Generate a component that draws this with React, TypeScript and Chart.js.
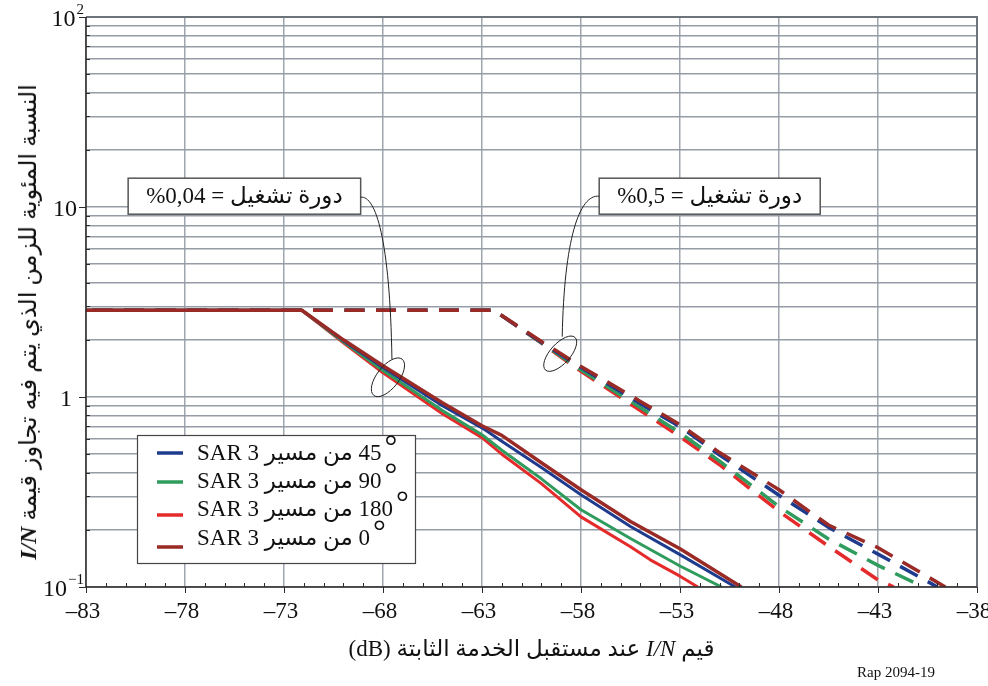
import React, { useEffect, useRef } from "react";
import { Chart, registerables } from "chart.js";

Chart.register(...registerables);

// ---- Axis ticks --------------------------------------------------------
const xTickValues = [-83, -78, -73, -68, -63, -58, -53, -48, -43, -38];
const xTickLabels = ["–83", "–78", "–73", "–68", "–63", "–58", "–53", "–48", "–43", "–38"];
const yTickValues = [100, 10, 1, 0.1];
const yTickBase = ["10", "10", "1", "10"];
const yTickExp = ["2", "", "", "−1"];

// ---- Series: I/N (dB) against % of time exceeded -----------------------
// Duty cycle 0.04 % (solid)
const sar45X = [-83, -72.1, -70, -68, -65, -63, -62, -60, -58, -55.5, -53, -50.2];
const sar45Y = [2.86, 2.86, 1.98, 1.43, 0.899, 0.688, 0.585, 0.425, 0.306, 0.208, 0.148, 0.1];
const sar90X = [-83, -72.1, -70, -68, -65, -63, -62, -60, -58, -55.5, -53, -50.9];
const sar90Y = [2.86, 2.86, 1.95, 1.38, 0.848, 0.633, 0.525, 0.371, 0.255, 0.18, 0.129, 0.1];
const sar180X = [-83, -72.1, -70, -68, -65, -63, -62, -60, -58, -55.5, -54.5, -53, -52.1];
const sar180Y = [2.86, 2.86, 1.93, 1.34, 0.817, 0.611, 0.5, 0.35, 0.234, 0.163, 0.139, 0.114, 0.1];
const sar0X = [-83, -72.1, -70, -68, -65, -63, -62, -60, -58, -55.5, -53, -49.9];
const sar0Y = [2.86, 2.86, 2.0, 1.46, 0.933, 0.706, 0.628, 0.451, 0.325, 0.221, 0.159, 0.1];

// Duty cycle 0.5 % (dashed)
const duty45X = [-83, -62.4, -60, -58, -55, -53, -51, -48, -45.5, -43, -40.0];
const duty45Y = [2.86, 2.86, 1.94, 1.43, 0.922, 0.698, 0.495, 0.304, 0.206, 0.149, 0.1];
const duty90X = [-83, -62.4, -60, -58, -55, -53, -51, -48, -45.5, -43, -40.7];
const duty90Y = [2.86, 2.86, 1.93, 1.39, 0.879, 0.648, 0.46, 0.265, 0.179, 0.13, 0.1];
const duty180X = [-83, -62.4, -60, -58, -55, -53, -51, -48, -45.5, -43, -42.2];
const duty180Y = [2.86, 2.86, 1.92, 1.364, 0.849, 0.618, 0.44, 0.25, 0.164, 0.109, 0.1];
const duty0X = [-83, -62.4, -60, -58, -55, -53, -51, -48, -45.5, -43, -39.6];
const duty0Y = [2.86, 2.86, 1.96, 1.449, 0.948, 0.715, 0.51, 0.325, 0.212, 0.161, 0.1];

// ---- Legend ------------------------------------------------------------
const trackAngles = ["45", "90", "180", "0"];
const trackText = "من مسير SAR 3";
const seriesColors = ["#1f3b8e", "#2f9c5e", "#e42a2a", "#992a26"];

// ---- Duty-cycle callouts -------------------------------------------------
const dutyWord = "دورة تشغيل";
const dutyValues = ["0,04", "0,5"];

const SERIF = '"Liberation Serif", "Times New Roman", "DejaVu Sans", serif';

const pts = (xs: number[], ys: number[]) => xs.map((v, i) => ({ x: v, y: ys[i] }));

const solid = [
  { xs: sar45X, ys: sar45Y },
  { xs: sar90X, ys: sar90Y },
  { xs: sar180X, ys: sar180Y },
  { xs: sar0X, ys: sar0Y },
];
const dashed = [
  { xs: duty45X, ys: duty45Y },
  { xs: duty90X, ys: duty90Y },
  { xs: duty180X, ys: duty180Y },
  { xs: duty0X, ys: duty0Y },
];
// lower order is painted later (on top): 0° on top, 180° underneath
const stackRank = [1, 2, 3, 0];

const datasets: any[] = [
  ...solid.map((s, i) => ({
    label: trackAngles[i] + "° " + trackText,
    data: pts(s.xs, s.ys),
    borderColor: seriesColors[i],
    borderWidth: i === 3 ? 3.5 : 3,
    order: stackRank[i],
  })),
  ...dashed.map((s, i) => ({
    label: trackAngles[i] + "° " + trackText + " (0,5%)",
    data: pts(s.xs, s.ys),
    borderColor: seriesColors[i],
    borderWidth: 3.5,
    borderDash: [20, 11.5],
    borderDashOffset: 25,
    order: 4 + stackRank[i],
  })),
];

function setDir(ctx: CanvasRenderingContext2D, dir: string) {
  (ctx as any).direction = dir;
}

const overlayPlugin = {
  id: "overlay",
  afterDatasetsDraw(chart: any) {
    const { ctx, chartArea: a, scales } = chart;
    const xs = scales.x;
    const ys = scales.y;
    ctx.save();

    // frame
    ctx.lineWidth = 2;
    ctx.strokeStyle = "#6d737b";
    ctx.beginPath();
    ctx.moveTo(a.left, a.top);
    ctx.lineTo(a.right, a.top);
    ctx.lineTo(a.right, a.bottom);
    ctx.stroke();
    ctx.lineWidth = 1.5;
    ctx.strokeStyle = "#2b2b2b";
    ctx.beginPath();
    ctx.moveTo(a.left, a.top);
    ctx.lineTo(a.left, a.bottom);
    ctx.lineTo(a.right, a.bottom);
    ctx.stroke();

    // x tick marks: majors outward, minors inward
    ctx.lineWidth = 1;
    ctx.beginPath();
    for (let v = -83; v <= -38; v++) {
      const px = Math.round(xs.getPixelForValue(v)) + 0.5;
      if ((v + 83) % 5 === 0) {
        ctx.moveTo(px, a.bottom);
        ctx.lineTo(px, a.bottom + 6);
      } else {
        ctx.moveTo(px, a.bottom);
        ctx.lineTo(px, a.bottom - 4);
      }
    }
    // y tick marks
    for (let e = -1; e < 2; e++) {
      for (let m = 1; m <= 9; m++) {
        const v = m * Math.pow(10, e);
        const py = Math.round(ys.getPixelForValue(v)) + 0.5;
        if (m === 1) {
          ctx.moveTo(a.left - 7, py);
          ctx.lineTo(a.left, py);
        } else {
          ctx.moveTo(a.left, py);
          ctx.lineTo(a.left + 4, py);
        }
      }
    }
    const topPy = Math.round(ys.getPixelForValue(100)) + 0.5;
    ctx.moveTo(a.left - 7, topPy);
    ctx.lineTo(a.left, topPy);
    ctx.stroke();

    // tick labels
    ctx.fillStyle = "#111";
    ctx.textBaseline = "middle";
    ctx.font = `23px ${SERIF}`;
    ctx.textAlign = "center";
    xTickValues.forEach((v, i) => {
      ctx.fillText(xTickLabels[i], xs.getPixelForValue(v) - 3, a.bottom + 25);
    });
    yTickValues.forEach((v, i) => {
      const py = ys.getPixelForValue(v) + 3;
      if (yTickExp[i]) {
        ctx.font = `15px ${SERIF}`;
        const ew = ctx.measureText(yTickExp[i]).width;
        const right = a.left - 2;
        ctx.textAlign = "left";
        ctx.fillText(yTickExp[i], right - ew, py - 10);
        ctx.font = `24px ${SERIF}`;
        ctx.textAlign = "right";
        ctx.fillText(yTickBase[i], right - ew - 1, py);
      } else {
        ctx.font = `24px ${SERIF}`;
        ctx.textAlign = "right";
        ctx.fillText(yTickBase[i], a.left - (yTickBase[i].length === 1 ? 14 : 9), py);
      }
    });

    // legend box
    const lx = a.left + 51;
    const ly = a.bottom - 152;
    const lw = 278;
    const lh = 128;
    ctx.fillStyle = "#fff";
    ctx.fillRect(lx, ly, lw, lh);
    ctx.strokeStyle = "#444";
    ctx.lineWidth = 1.2;
    ctx.strokeRect(lx + 0.5, ly + 0.5, lw, lh);
    const textRows = [17, 45, 73, 102];
    const lineRows = [18, 47, 80, 112];
    trackAngles.forEach((ang, i) => {
      ctx.strokeStyle = seriesColors[i];
      ctx.lineWidth = 3.5;
      ctx.beginPath();
      ctx.moveTo(lx + 20, ly + lineRows[i]);
      ctx.lineTo(lx + 46, ly + lineRows[i]);
      ctx.stroke();
      ctx.fillStyle = "#111";
      ctx.font = `23px ${SERIF}`;
      ctx.textBaseline = "alphabetic";
      const label = ang + " " + trackText;
      const base = ly + textRows[i] + 8;
      ctx.save();
      setDir(ctx, "rtl");
      ctx.textAlign = "left";
      ctx.fillText(label, lx + 60, base);
      const w = ctx.measureText(label).width;
      ctx.restore();
      ctx.font = `32px ${SERIF}`;
      ctx.textAlign = "left";
      ctx.fillText("°", lx + 60 + w + 3, base - 3);
    });

    // duty-cycle callouts
    const notes = [
      { value: dutyValues[0], bx: -75.0, by: 11.4, rx: -67.75, ry: 1.27, a: 23, b: 11, rot: -52, side: "right", ex: 4, ey: -18 },
      { value: dutyValues[1], bx: -51.5, by: 11.4, rx: -59.05, ry: 1.69, a: 22, b: 10, rot: -48, side: "left", ex: 2, ey: -17 },
    ];
    notes.forEach((n) => {
      ctx.font = `23px ${SERIF}`;
      // "%value =" reads left to right, the Arabic words sit to its right
      const ltrPart = "%" + n.value + " = ";
      ctx.save();
      setDir(ctx, "ltr");
      const w1 = ctx.measureText(ltrPart).width;
      ctx.restore();
      ctx.save();
      setDir(ctx, "rtl");
      const w2 = ctx.measureText(dutyWord).width;
      ctx.restore();
      const tw = w1 + w2;
      const cx = xs.getPixelForValue(n.bx);
      const cy = ys.getPixelForValue(n.by);
      const bw = tw + 36;
      const bh = 36;
      const left = cx - bw / 2;
      const top = cy - bh / 2;
      ctx.fillStyle = "#fff";
      ctx.fillRect(left, top, bw, bh);
      ctx.strokeStyle = "#555";
      ctx.lineWidth = 1.5;
      ctx.strokeRect(left, top, bw, bh);
      ctx.fillStyle = "#111";
      ctx.textBaseline = "middle";
      ctx.textAlign = "left";
      ctx.save();
      setDir(ctx, "ltr");
      ctx.fillText(ltrPart, left + 18, cy + 1);
      ctx.restore();
      ctx.save();
      setDir(ctx, "rtl");
      ctx.textAlign = "left";
      ctx.fillText(dutyWord, left + 18 + w1, cy + 1);
      ctx.restore();

      const rcx = xs.getPixelForValue(n.rx);
      const rcy = ys.getPixelForValue(n.ry);
      ctx.strokeStyle = "#222";
      ctx.lineWidth = 1;
      ctx.beginPath();
      ctx.ellipse(rcx, rcy, n.a, n.b, (n.rot * Math.PI) / 180, 0, Math.PI * 2);
      ctx.stroke();

      const ex = rcx + n.ex;
      const ey = rcy + n.ey;
      ctx.beginPath();
      if (n.side === "right") {
        const sx = left + bw;
        const sy = cy + 1;
        ctx.moveTo(sx, sy);
        ctx.bezierCurveTo(sx + 15, sy - 2, ex - 2, sy + 42, ex, ey);
      } else {
        const sx = left;
        const sy = cy;
        ctx.moveTo(sx, sy);
        ctx.bezierCurveTo(sx - 20, sy - 2, ex + 2, sy + 43, ex, ey);
      }
      ctx.stroke();
    });

    ctx.restore();
  },
};

export default function App() {
  const canvasRef = useRef<HTMLCanvasElement>(null);

  useEffect(() => {
    const canvas = canvasRef.current;
    if (!canvas) return;
    const chart = new Chart(canvas, {
      type: "line",
      data: { datasets },
      options: {
        animation: false,
        responsive: false,
        maintainAspectRatio: false,
        parsing: false as any,
        layout: { padding: { left: 86, top: 17, right: 11, bottom: 99 } },
        elements: {
          point: { radius: 0 },
          line: { tension: 0, borderCapStyle: "butt", borderJoinStyle: "round", fill: false },
        },
        plugins: {
          legend: { display: false },
          tooltip: { enabled: false },
        },
        scales: {
          x: {
            type: "linear",
            min: -83,
            max: -38,
            afterBuildTicks: (s: any) => {
              s.ticks = xTickValues.map((v) => ({ value: v }));
            },
            ticks: { display: false },
            grid: { color: "#9ea5ae", lineWidth: 1.5, drawTicks: false },
            border: { display: false },
          },
          y: {
            type: "logarithmic",
            min: 0.1,
            max: 100,
            afterBuildTicks: (s: any) => {
              const t: any[] = [];
              for (let e = -1; e < 2; e++) {
                for (let m = 1; m <= 9; m++) t.push({ value: m * Math.pow(10, e), major: m === 1 });
              }
              t.push({ value: 100, major: true });
              s.ticks = t;
            },
            ticks: { display: false },
            grid: { color: "#959ca5", lineWidth: 1.5, drawTicks: false },
            border: { display: false },
          },
        },
      } as any,
      plugins: [overlayPlugin],
    });
    return () => chart.destroy();
  }, []);

  return (
    <div style={{ position: "relative", width: 988, height: 686, background: "#fff", overflow: "hidden" }}>
      <style>{"body{margin:0}"}</style>
      <canvas ref={canvasRef} width={988} height={686} style={{ display: "block" }} />
      <div
        dir="rtl"
        style={{
          position: "absolute",
          left: 86,
          width: 891,
          top: 635,
          textAlign: "center",
          fontFamily: SERIF,
          fontSize: 23,
          color: "#111",
          whiteSpace: "nowrap",
        }}
      >
        قيم <i>I/N</i> عند مستقبل الخدمة الثابتة (dB)
      </div>
      <div
        dir="rtl"
        style={{
          position: "absolute",
          left: 28,
          top: 322,
          transform: "translate(-50%, -50%) rotate(-90deg)",
          fontFamily: SERIF,
          fontSize: 24,
          color: "#111",
          whiteSpace: "nowrap",
        }}
      >
        النسبة المئوية للزمن الذي يتم فيه تجاوز قيمة <b><i>I/N</i></b>
      </div>
      <div
        style={{
          position: "absolute",
          right: 53,
          top: 664,
          fontFamily: SERIF,
          fontSize: 15,
          color: "#111",
          whiteSpace: "nowrap",
        }}
      >
        Rap 2094-19
      </div>
    </div>
  );
}
